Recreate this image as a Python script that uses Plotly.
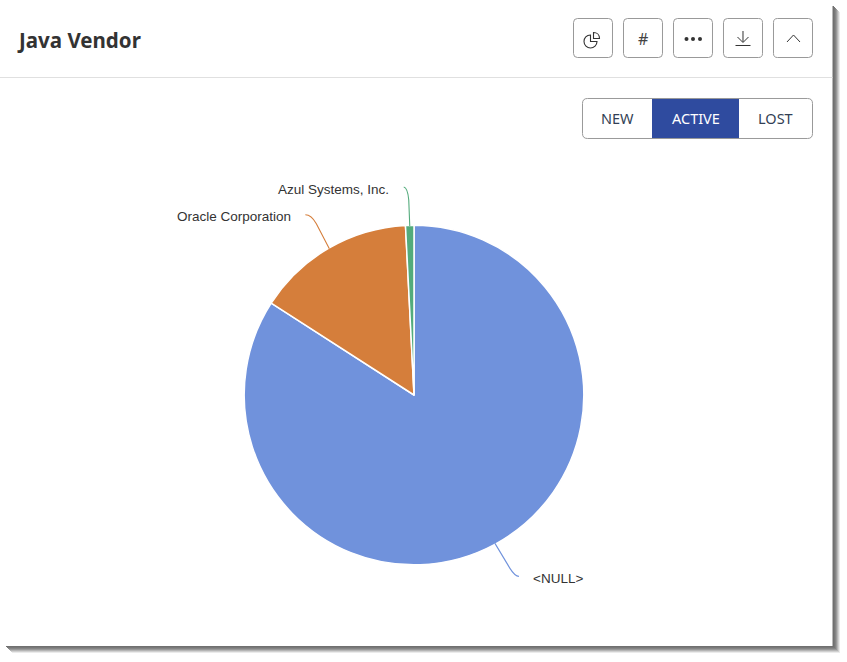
import math
import plotly.graph_objects as go

W, H = 847, 662
TITLE = "Java Vendor"
CATEGORIES = ["<NULL>", "Oracle Corporation", "Azul Systems, Inc."]
VALUES = [84.1, 15.1, 0.8]
COLORS = ["#7092DC", "#D57E3B", "#53AB7C"]
SEGMENTS = ["NEW", "ACTIVE", "LOST"]

CX, CY, R = 414, 395, 169


def X(p):
    return p / W


def Y(p):
    return 1 - p / H


def path_px(points):
    """points: list of tokens: (cmd, x, y, ...) in pixels."""
    out = []
    for tok in points:
        cmd, coords = tok[0], tok[1:]
        pairs = [f"{X(coords[i]):.5f},{Y(coords[i + 1]):.5f}" for i in range(0, len(coords), 2)]
        out.append(cmd + " " + " ".join(pairs))
    return " ".join(out)


def round_rect(x0, y0, x1, y1, r):
    return path_px([
        ("M", x0 + r, y0), ("L", x1 - r, y0), ("Q", x1, y0, x1, y0 + r),
        ("L", x1, y1 - r), ("Q", x1, y1, x1 - r, y1), ("L", x0 + r, y1),
        ("Q", x0, y1, x0, y1 - r), ("L", x0, y0 + r), ("Q", x0, y0, x0 + r, y0),
    ]) + " Z"


shapes = []


def rect(x0, y0, x1, y1, fill):
    shapes.append(dict(type="rect", xref="paper", yref="paper", x0=X(x0), x1=X(x1), y0=Y(y1), y1=Y(y0),
                       fillcolor=fill, line=dict(width=0), layer="below"))


def path(d, color="#333333", width=1.0, fill=None):
    s = dict(type="path", xref="paper", yref="paper", path=d, line=dict(color=color, width=width), layer="above")
    if fill:
        s["fillcolor"] = fill
    shapes.append(s)


# Drop shadow of the card
shadow = ["#707070", "#787878", "#858585", "#999999", "#b5b5b5", "#d0d0d0", "#ebebeb"]
for i in reversed(range(len(shadow))):
    rect(6 + i, 6 + i, 833 + i + 1, 646 + i + 1, shadow[i])
rect(0, 0, 832.5, 646, "#FFFFFF")

# Header divider
rect(0, 77, 832.5, 78, "#E0E0E0")

# Icon buttons
for x0 in (573, 623, 673, 723, 773):
    path(round_rect(x0 + .5, 18.5, x0 + 39.5, 57.5, 4), color="#999999")

# Pie icon
path(path_px([("M", 590.5, 35), ("C", 586.5, 35, 584, 38, 584, 41.5), ("C", 584, 45, 587, 48, 590.5, 48),
              ("C", 594, 48, 597, 45, 597, 41.5), ("L", 590.5, 41.5)]) + " Z", width=1.1)
path(path_px([("M", 593.5, 32.5), ("L", 593.5, 38.5), ("L", 599.5, 38.5), ("C", 599.5, 35, 597, 32.5, 593.5, 32.5)]) + " Z", width=1.1)

# Ellipsis icon
for cx in (686.5, 693, 700):
    shapes.append(dict(type="circle", xref="paper", yref="paper", x0=X(cx - 2), x1=X(cx + 2), y0=Y(41), y1=Y(37),
                       fillcolor="#333333", line=dict(width=0), layer="above"))

# Download icon
path(path_px([("M", 743, 31), ("L", 743, 42)]))
path(path_px([("M", 737.5, 37), ("L", 743, 42.5), ("L", 748.5, 37)]))
path(path_px([("M", 735.5, 45.5), ("L", 750.5, 45.5)]))

# Chevron icon
path(path_px([("M", 787, 42), ("L", 793.5, 35), ("L", 800, 42)]))

# Segmented control
rect(652, 98, 739, 139, "#2F4B9F")
path(round_rect(582.5, 98.5, 812.5, 138.5, 5), color="#999999")

# Leader lines, anchored on each slice's mid angle
total = sum(VALUES)
cum = 0
mids = []
for v in VALUES:
    mids.append((cum + v / 2) / total * 2 * math.pi)
    cum += v
LEADERS = [
    ((15, 25), (20, 33), (24, 33)),
    ((-13, -25), (-18, -34), (-24, -34)),
    ((-1, -26), (-2, -38), (-6, -39)),
]
annotations = []


def text(x, y, s, size, color, anchor="center", family="Liberation Sans", weight=None):
    t = f"<b>{s}</b>" if weight else s
    annotations.append(dict(xref="paper", yref="paper", x=X(x), y=Y(y), text=t, showarrow=False, xanchor=anchor,
                            yanchor="middle", font=dict(size=size, color=color, family=family),
                            borderpad=0, borderwidth=0))


label_offset = [(38, 35), (-38, -32), (-21, -37)]
for m, col, name, (mid, ctrl, end), off in zip(mids, COLORS, CATEGORIES, LEADERS, label_offset):
    sx = CX + R * math.sin(m)
    sy = CY - R * math.cos(m)
    path(path_px([("M", sx, sy), ("L", sx + mid[0], sy + mid[1]),
                  ("Q", sx + ctrl[0], sy + ctrl[1], sx + end[0], sy + end[1])]), color=col, width=1.1)
    lx, ly = sx + off[0], sy + off[1]
    text(lx, ly, name.replace("<", "&lt;").replace(">", "&gt;"), 13.5, "#333333", "left" if off[0] > 0 else "right")

text(17, 39.5, TITLE, 20.5, "#333333", "left", family="Noto Sans", weight=True)
text(643, 39, "#", 16, "#444444", family="Noto Sans")
for (cx, lab, col) in zip((617.5, 695.5, 775.5), SEGMENTS, ("#333F55", "#FFFFFF", "#333F55")):
    text(cx, 118.5, lab, 14.5, col, family="Noto Sans")

PIE_R = R + 0.8
fig = go.Figure(go.Pie(
    labels=CATEGORIES, values=VALUES, sort=False, direction="clockwise", rotation=0,
    marker=dict(colors=COLORS, line=dict(color="#FFFFFF", width=1.5)),
    textinfo="none", showlegend=False,
    domain=dict(x=[X(CX - PIE_R), X(CX + PIE_R)], y=[Y(CY + PIE_R), Y(CY - PIE_R)]),
))
fig.update_layout(width=W, height=H, margin=dict(l=0, r=0, t=0, b=0), paper_bgcolor="#FFFFFF",
                  shapes=shapes, annotations=annotations, showlegend=False)
fig.write_html("out.html", post_script="document.body.style.margin='0';document.body.style.overflow='hidden';",
               config=dict(displayModeBar=False))
